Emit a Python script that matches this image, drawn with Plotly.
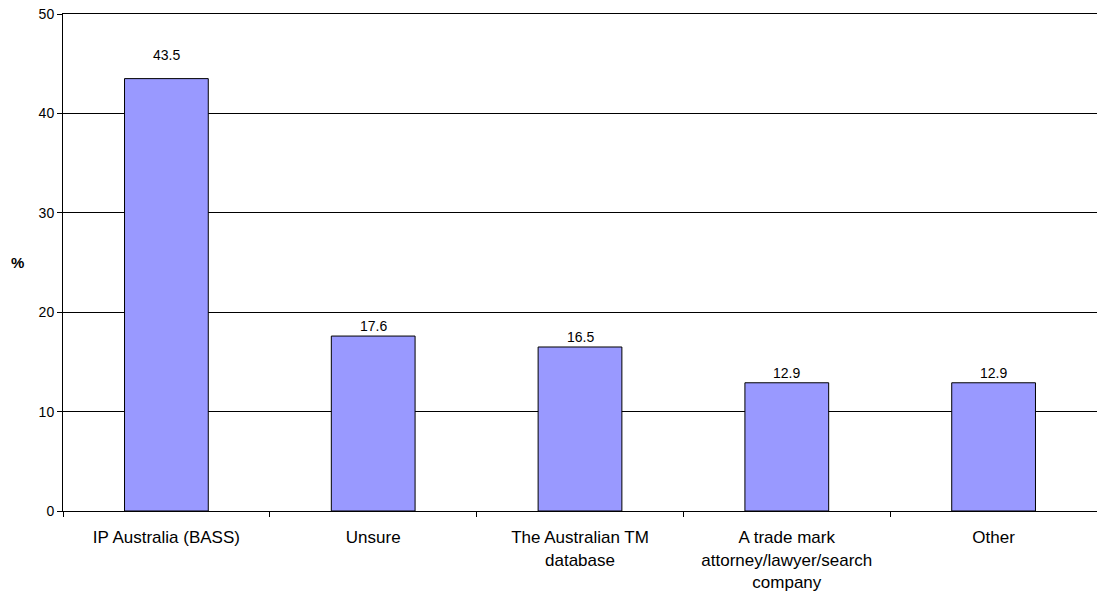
import plotly.graph_objects as go

categories = [
    "IP Australia (BASS)",
    "Unsure",
    "The Australian TM<br>database",
    "A trade mark<br>attorney/lawyer/search<br>company",
    "Other",
]
values = [43.5, 17.6, 16.5, 12.9, 12.9]
label_shift = [14, 0, 0, 0, 0]

FONT = "Liberation Sans, Arial"

fig = go.Figure()
fig.add_trace(go.Bar(
    x=categories,
    y=values,
    width=0.405,
    marker=dict(color="#9999FF", line=dict(color="#000000", width=1)),
    hoverinfo="skip",
))

# value labels above each bar
for c, v, s in zip(categories, values, label_shift):
    fig.add_annotation(
        x=c, y=v, text=f"{v}", showarrow=False, yanchor="bottom",
        yshift=s, font=dict(family=FONT, size=14, color="#000"),
    )

# y-axis title
fig.add_annotation(
    xref="paper", yref="paper", x=-0.044, y=0.5, text="<b>%</b>",
    showarrow=False, xanchor="center", yanchor="middle",
    font=dict(family=FONT, size=15, color="#000"),
)

fig.update_layout(
    width=1097, height=593,
    margin=dict(l=63, r=0, t=14, b=82),
    paper_bgcolor="white", plot_bgcolor="white",
    showlegend=False,
    font=dict(family=FONT, size=14, color="#000"),
)
fig.update_xaxes(
    type="category", tickson="boundaries", ticks="outside", ticklen=5,
    tickcolor="#000", showline=True, mirror=True, linecolor="#000",
    linewidth=1, showgrid=False, automargin=False,
    tickfont=dict(family=FONT, size=17), ticklabelstandoff=11,
)
fig.update_yaxes(
    range=[0, 50], dtick=10, showgrid=True, gridcolor="#000", gridwidth=1,
    showline=True, linecolor="#000", linewidth=1, automargin=False,
    ticks="outside", ticklen=5, tickcolor="#000", zeroline=True,
    zerolinecolor="#000", zerolinewidth=1,
    tickfont=dict(family=FONT, size=14),
)

fig.write_html("out.html")
